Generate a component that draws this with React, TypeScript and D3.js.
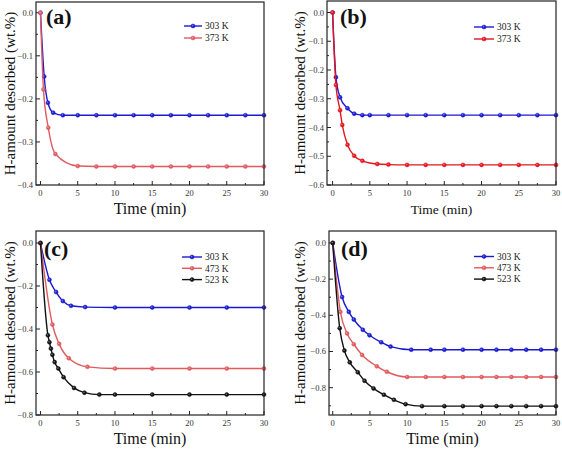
import React from "react";
import * as d3 from "d3";

// ---------- data ----------
const aT303 = [0, 0.5, 1, 1.7, 3, 5, 7.5, 10, 12.5, 15, 17.5, 20, 22.5, 25, 27.5, 30];
const aV303 = [0, -0.148, -0.209, -0.232, -0.238, -0.238, -0.238, -0.238, -0.238, -0.238, -0.238, -0.238, -0.238, -0.238, -0.238, -0.238];
const aT373 = [0, 0.4, 1.05, 2, 5, 7.5, 10, 12.5, 15, 17.5, 20, 22.5, 25, 27.5, 30];
const aV373 = [0, -0.178, -0.267, -0.328, -0.356, -0.357, -0.357, -0.357, -0.357, -0.357, -0.357, -0.357, -0.357, -0.357, -0.357];

const bT303 = [0, 0.45, 1, 2, 2.9, 4, 5, 7.5, 10, 12.5, 15, 17.5, 20, 22.5, 25, 27.5, 30];
const bV303 = [0, -0.225, -0.295, -0.333, -0.352, -0.357, -0.357, -0.357, -0.357, -0.357, -0.357, -0.357, -0.357, -0.357, -0.357, -0.357, -0.357];
const bT373 = [0, 0.45, 1, 1.3, 2, 2.9, 4, 6, 7.5, 10, 12.5, 15, 17.5, 20, 22.5, 25, 27.5, 30];
const bV373 = [0, -0.252, -0.34, -0.391, -0.46, -0.498, -0.516, -0.527, -0.529, -0.53, -0.53, -0.53, -0.53, -0.53, -0.53, -0.53, -0.53, -0.53];

const cT303 = [0, 1.2, 2.1, 3, 4.1, 6, 10, 15, 20, 25, 30];
const cV303 = [0, -0.171, -0.228, -0.27, -0.292, -0.298, -0.3, -0.3, -0.3, -0.3, -0.3];
const cT473 = [0, 1.6, 2.5, 3.8, 6.3, 10, 15, 20, 25, 30];
const cV473 = [0, -0.379, -0.469, -0.536, -0.576, -0.584, -0.584, -0.584, -0.584, -0.584];
const cT523 = [0, 1, 1.2, 1.4, 1.6, 1.9, 2.4, 3.1, 4.5, 5.9, 7.9, 10, 15, 20, 25, 30];
const cV523 = [0, -0.429, -0.461, -0.491, -0.52, -0.554, -0.584, -0.624, -0.674, -0.696, -0.705, -0.705, -0.705, -0.705, -0.705, -0.705];

const dT303 = [0, 1.26, 2.16, 2.83, 4.04, 4.94, 6.51, 7.77, 10.55, 13.16, 15, 17.5, 20, 22, 24, 26, 28, 30];
const dV303 = [0, -0.299, -0.381, -0.423, -0.48, -0.51, -0.549, -0.573, -0.59, -0.59, -0.59, -0.59, -0.59, -0.59, -0.59, -0.59, -0.59, -0.59];
const dT473 = [0, 1.03, 1.93, 2.83, 3.95, 5.93, 7.27, 10, 12.5, 15, 17.5, 20, 22, 24, 26, 28, 30];
const dV473 = [0, -0.381, -0.5, -0.56, -0.619, -0.682, -0.712, -0.741, -0.741, -0.741, -0.741, -0.741, -0.741, -0.741, -0.741, -0.741, -0.741];
const dT523 = [0, 0.94, 1.57, 2.29, 3.37, 4.27, 5.48, 6.87, 8.22, 9.79, 12, 15, 17.5, 20, 22, 24, 26, 28, 30];
const dV523 = [0, -0.471, -0.595, -0.66, -0.715, -0.762, -0.804, -0.839, -0.867, -0.891, -0.902, -0.902, -0.902, -0.902, -0.902, -0.902, -0.902, -0.902, -0.902];

const xTicks = [0, 5, 10, 15, 20, 25, 30];
const yTicksAB_a = [0, -0.1, -0.2, -0.3, -0.4];
const yTicksAB_b = [0, -0.1, -0.2, -0.3, -0.4, -0.5, -0.6];
const yTicksCD = [0, -0.2, -0.4, -0.6, -0.8];

const xTitle = "Time (min)";
const yTitle = "H-amount desorbed (wt.%)";

const BLUE = "#1a1ad2";
const BLACK = "#111111";

type Series = { name: string; t: number[]; v: number[]; color: string };

const panels = [
  {
    label: "(a)",
    box: { l: 36, r: 264, t: 2, b: 185 },
    xDom: [-0.6, 30], yDom: [-0.4, 0.025],
    yTicks: yTicksAB_a, yMinorStep: 0.05,
    series: [
      { name: "303 K", t: aT303, v: aV303, color: BLUE },
      { name: "373 K", t: aT373, v: aV373, color: "#e05a62" },
    ] as Series[],
    legend: { x1: 184, x2: 202, y0: 26, dy: 12 },
    labelPos: { x: 46, y: 24 },
    yLab: { x: 10 }, xTitleSize: 16,
  },
  {
    label: "(b)",
    box: { l: 327, r: 556, t: 1, b: 185 },
    xDom: [-0.75, 30], yDom: [-0.6, 0.04],
    yTicks: yTicksAB_b, yMinorStep: 0.05,
    series: [
      { name: "303 K", t: bT303, v: bV303, color: BLUE },
      { name: "373 K", t: bT373, v: bV373, color: "#e3161e" },
    ] as Series[],
    legend: { x1: 474, x2: 494, y0: 27, dy: 12 },
    labelPos: { x: 340, y: 24 },
    yLab: { x: 300 }, xTitleSize: 13.5,
  },
  {
    label: "(c)",
    box: { l: 36, r: 264, t: 231, b: 415 },
    xDom: [-0.6, 30], yDom: [-0.8, 0.056],
    yTicks: yTicksCD, yMinorStep: 0.1,
    series: [
      { name: "303 K", t: cT303, v: cV303, color: BLUE },
      { name: "473 K", t: cT473, v: cV473, color: "#e05a5e" },
      { name: "523 K", t: cT523, v: cV523, color: BLACK },
    ] as Series[],
    legend: { x1: 182, x2: 202, y0: 257, dy: 11.3 },
    labelPos: { x: 44, y: 256 },
    yLab: { x: 10 }, xTitleSize: 16,
  },
  {
    label: "(d)",
    box: { l: 329, r: 556, t: 231, b: 415 },
    xDom: [-0.5, 30], yDom: [-0.951, 0.066],
    yTicks: yTicksCD, yMinorStep: 0.1,
    series: [
      { name: "303 K", t: dT303, v: dV303, color: BLUE },
      { name: "473 K", t: dT473, v: dV473, color: "#e05a5e" },
      { name: "523 K", t: dT523, v: dV523, color: BLACK },
    ] as Series[],
    legend: { x1: 474, x2: 494, y0: 256.5, dy: 11.3 },
    labelPos: { x: 341, y: 256 },
    yLab: { x: 300 }, xTitleSize: 16,
  },
];

const FONT = "'Liberation Serif', 'Times New Roman', serif";

function Marker({ x, y, color }: { x: number; y: number; color: string }) {
  return (
    <g>
      <circle cx={x} cy={y} r={2} fill={color} stroke={color} strokeWidth={0.5} />
      <circle cx={x - 0.4} cy={y - 0.4} r={0.8} fill="#ffffff" opacity={0.4} />
    </g>
  );
}

function Panel({ p }: { p: (typeof panels)[number] }) {
  const { box } = p;
  const x = d3.scaleLinear().domain(p.xDom).range([box.l, box.r]);
  const y = d3.scaleLinear().domain(p.yDom).range([box.b, box.t]);
  const line = d3
    .line<[number, number]>()
    .x((d) => x(d[0]))
    .y((d) => y(d[1]))
    .curve(d3.curveMonotoneX);

  const xMinor = d3.range(2.5, 30, 5);
  const yMin = p.yDom[0];
  const yMinor: number[] = [];
  for (let v = -p.yMinorStep; v >= yMin - 1e-9; v -= p.yMinorStep) {
    if (!p.yTicks.some((t) => Math.abs(t - v) < 1e-6)) yMinor.push(v);
  }
  const cx = (box.l + box.r) / 2;
  const cy = (box.t + box.b) / 2;

  return (
    <g>
      {xTicks.map((t) => (
        <g key={"xt" + t}>
          <line x1={x(t)} x2={x(t)} y1={box.b} y2={box.b - 4} stroke="#222" strokeWidth={1} />
          <text x={x(t)} y={box.b + 11} fontSize={8.5} textAnchor="middle" fill="#333" fontFamily={FONT}>
            {t}
          </text>
        </g>
      ))}
      {xMinor.map((t) => (
        <line key={"xm" + t} x1={x(t)} x2={x(t)} y1={box.b} y2={box.b - 2} stroke="#222" strokeWidth={1} />
      ))}
      {p.yTicks.map((t) => (
        <g key={"yt" + t}>
          <line x1={box.l} x2={box.l + 4} y1={y(t)} y2={y(t)} stroke="#222" strokeWidth={1} />
          <text x={box.l - 3} y={y(t) + 3} fontSize={8.5} textAnchor="end" fill="#333" fontFamily={FONT}>
            {d3.format(".1f")(t)}
          </text>
        </g>
      ))}
      {yMinor.map((t) => (
        <line key={"ym" + t} x1={box.l} x2={box.l + 2} y1={y(t)} y2={y(t)} stroke="#222" strokeWidth={1} />
      ))}

      {p.series.map((s) => {
        const pts: [number, number][] = s.t.map((t, i) => [t, s.v[i]]);
        return (
          <g key={s.name}>
            <path d={line(pts) || ""} fill="none" stroke={s.color} strokeWidth={1.4} />
            {pts.map((d, i) => (
              <Marker key={i} x={x(d[0])} y={y(d[1])} color={s.color} />
            ))}
          </g>
        );
      })}

      <rect x={box.l} y={box.t} width={box.r - box.l} height={box.b - box.t} fill="none" stroke="#222" strokeWidth={1.2} />

      {p.series.map((s, i) => {
        const ly = p.legend.y0 + i * p.legend.dy;
        return (
          <g key={"lg" + s.name}>
            <line x1={p.legend.x1} x2={p.legend.x2} y1={ly} y2={ly} stroke={s.color} strokeWidth={1.4} />
            <Marker x={(p.legend.x1 + p.legend.x2) / 2} y={ly} color={s.color} />
            <text x={p.legend.x2 + 3} y={ly + 3.3} fontSize={9.5} fill="#222" fontFamily={FONT}>
              {s.name}
            </text>
          </g>
        );
      })}

      <text x={p.labelPos.x} y={p.labelPos.y} fontSize={22} fontWeight="bold" fill="#111" fontFamily={FONT}>
        {p.label}
      </text>

      <text x={cx} y={box.b + 29} fontSize={p.xTitleSize} textAnchor="middle" fill="#111" fontFamily={FONT}>
        {xTitle}
      </text>
      <text
        transform={`translate(${p.yLab.x},${cy}) rotate(-90)`}
        fontSize={15}
        textAnchor="middle"
        dominantBaseline="central"
        fill="#111"
        fontFamily={FONT}
      >
        {yTitle}
      </text>
    </g>
  );
}

export default function App() {
  return (
    <svg width={562} height={452} style={{ position: "absolute", left: 0, top: 0, background: "#fff" }}>
      <rect width={562} height={452} fill="#fff" />
      {panels.map((p) => (
        <Panel key={p.label} p={p} />
      ))}
    </svg>
  );
}
